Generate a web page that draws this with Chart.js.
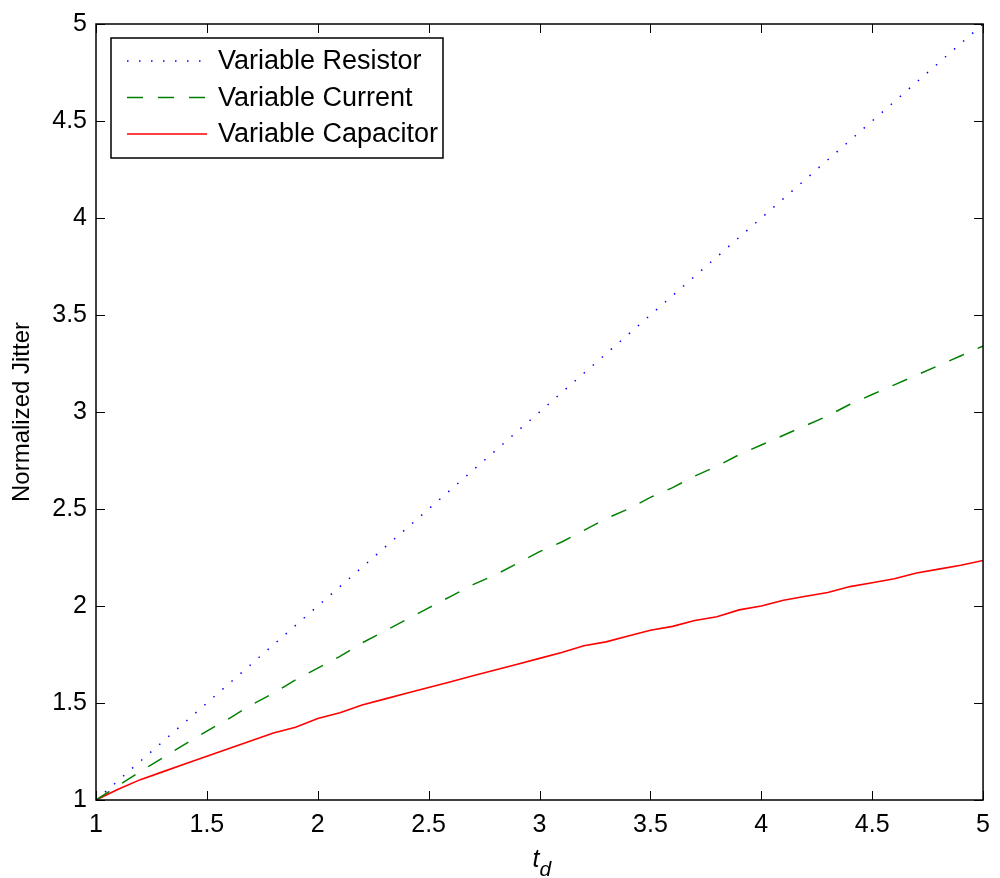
<!DOCTYPE html>
<html>
<head>
<meta charset="utf-8">
<title>Normalized Jitter vs t_d</title>
<script src="https://cdn.jsdelivr.net/npm/chart.js@4.4.0/dist/chart.umd.min.js"></script>
<style>
  html, body { margin: 0; padding: 0; background: #ffffff; }
</style>
</head>
<body>
<canvas id="jitterChart" width="1000" height="878"></canvas>
<script>
// Delay values (x axis) sampled every 0.1
const tdValues = [
  1.0, 1.1, 1.2, 1.3, 1.4, 1.5, 1.6, 1.7, 1.8, 1.9,
  2.0, 2.1, 2.2, 2.3, 2.4, 2.5, 2.6, 2.7, 2.8, 2.9,
  3.0, 3.1, 3.2, 3.3, 3.4, 3.5, 3.6, 3.7, 3.8, 3.9,
  4.0, 4.1, 4.2, 4.3, 4.4, 4.5, 4.6, 4.7, 4.8, 4.9, 5.0
];

// Normalized jitter for each tuning method
const resistorJitter = [
  1.0, 1.1, 1.2, 1.3, 1.4, 1.5, 1.6, 1.7, 1.8, 1.9,
  2.0, 2.1, 2.2, 2.3, 2.4, 2.5, 2.6, 2.7, 2.8, 2.9,
  3.0, 3.1, 3.2, 3.3, 3.4, 3.5, 3.6, 3.7, 3.8, 3.9,
  4.0, 4.1, 4.2, 4.3, 4.4, 4.5, 4.6, 4.7, 4.8, 4.9, 5.0
];
const currentJitter = [
  1.00, 1.074, 1.147, 1.217, 1.287, 1.355, 1.42, 1.49, 1.55, 1.62,
  1.68, 1.74, 1.81, 1.87, 1.93, 1.99, 2.05, 2.11, 2.16, 2.22,
  2.28, 2.33, 2.39, 2.45, 2.50, 2.56, 2.61, 2.67, 2.72, 2.78,
  2.83, 2.88, 2.93, 2.98, 3.04, 3.09, 3.14, 3.19, 3.24, 3.29, 3.34
];
const capacitorJitter = [
  1.000, 1.055, 1.105, 1.145, 1.185, 1.225, 1.265, 1.305, 1.345, 1.375,
  1.420, 1.450, 1.490, 1.520, 1.550, 1.580, 1.610, 1.640, 1.670, 1.700,
  1.730, 1.760, 1.795, 1.815, 1.845, 1.875, 1.895, 1.925, 1.945, 1.980,
  2.000, 2.030, 2.050, 2.070, 2.100, 2.120, 2.140, 2.170, 2.190, 2.210, 2.235
];

const seriesLabels = ["Variable Resistor", "Variable Current", "Variable Capacitor"];
const axisTicks = [1, 1.5, 2, 2.5, 3, 3.5, 4, 4.5, 5];

const FONT = '"Liberation Sans", Arial, Helvetica, sans-serif';
const TICK_LEN = 9;

function toPoints(ys) {
  return tdValues.map((x, i) => ({ x: x, y: ys[i] }));
}

// Box around the plot with inward tick marks on all four sides
const frameTicks = {
  id: "frameTicks",
  afterDatasetsDraw(chart) {
    const { ctx, chartArea: a, scales } = chart;
    ctx.save();
    ctx.strokeStyle = "#000";
    ctx.lineWidth = 1;
    ctx.beginPath();
    scales.x.ticks.forEach(t => {
      const px = Math.round(scales.x.getPixelForValue(t.value)) + 0.5;
      ctx.moveTo(px, a.bottom); ctx.lineTo(px, a.bottom - TICK_LEN);
      ctx.moveTo(px, a.top); ctx.lineTo(px, a.top + TICK_LEN);
    });
    scales.y.ticks.forEach(t => {
      const py = Math.round(scales.y.getPixelForValue(t.value)) + 0.5;
      ctx.moveTo(a.left, py); ctx.lineTo(a.left + TICK_LEN, py);
      ctx.moveTo(a.right, py); ctx.lineTo(a.right - TICK_LEN, py);
    });
    ctx.stroke();
    ctx.lineWidth = 1.5;
    ctx.strokeRect(a.left, a.top, a.right - a.left, a.bottom - a.top);
    ctx.restore();
  }
};

// Legend box in the upper-left corner of the plot
const cornerLegend = {
  id: "cornerLegend",
  afterDraw(chart) {
    const { ctx, chartArea: a } = chart;
    const left = a.left + 15, top = a.top + 14;
    const w = 332, h = 120;
    ctx.save();
    ctx.fillStyle = "#fff";
    ctx.fillRect(left, top, w, h);
    ctx.strokeStyle = "#000";
    ctx.lineWidth = 1.5;
    ctx.strokeRect(left, top, w, h);
    ctx.font = "27px " + FONT;
    ctx.textBaseline = "middle";
    chart.data.datasets.forEach((ds, i) => {
      const yRow = top + 23 + i * 36.5;
      ctx.strokeStyle = ds.borderColor;
      ctx.lineWidth = ds.borderWidth;
      ctx.setLineDash(ds.borderDash || []);
      ctx.beginPath();
      ctx.moveTo(left + 16, yRow);
      ctx.lineTo(left + 96, yRow);
      ctx.stroke();
      ctx.setLineDash([]);
      ctx.fillStyle = "#000";
      ctx.fillText(ds.label, left + 107, yRow + 1);
    });
    ctx.restore();
  }
};

// x-axis title "t" with subscript "d"
const subscriptTitle = {
  id: "subscriptTitle",
  afterDraw(chart) {
    const { ctx, scales } = chart;
    const cx = scales.x.getPixelForValue(3);
    ctx.save();
    ctx.fillStyle = "#000";
    ctx.textBaseline = "alphabetic";
    ctx.font = "italic 25px " + FONT;
    ctx.fillText("t", cx - 7, 867);
    ctx.font = "italic 21px " + FONT;
    ctx.fillText("d", cx, 876);
    ctx.restore();
  }
};

const ctx = document.getElementById("jitterChart");
new Chart(ctx, {
  type: "line",
  data: {
    datasets: [
      {
        label: seriesLabels[0],
        data: toPoints(resistorJitter),
        borderColor: "#0000ff",
        borderWidth: 1.5,
        borderDash: [1.5, 10.5],
        pointRadius: 0,
        tension: 0
      },
      {
        label: seriesLabels[1],
        data: toPoints(currentJitter),
        borderColor: "#008000",
        borderWidth: 1.5,
        borderDash: [16, 15],
        pointRadius: 0,
        tension: 0
      },
      {
        label: seriesLabels[2],
        data: toPoints(capacitorJitter),
        borderColor: "#ff0000",
        borderWidth: 1.6,
        pointRadius: 0,
        tension: 0
      }
    ]
  },
  options: {
    responsive: false,
    animation: false,
    layout: { autoPadding: false, padding: { left: 0, right: 13, top: 19, bottom: 0 } },
    plugins: {
      legend: { display: false },
      tooltip: { enabled: false }
    },
    scales: {
      x: {
        type: "linear",
        min: 1,
        max: 5,
        afterBuildTicks: scale => { scale.ticks = axisTicks.map(v => ({ value: v })); },
        afterFit: scale => { scale.height = 78; },
        grid: { display: false, drawTicks: false },
        border: { display: false },
        ticks: {
          padding: 10,
          maxRotation: 0,
          autoSkip: false,
          color: "#000",
          font: { family: FONT, size: 25 },
          callback: v => String(v)
        }
      },
      y: {
        type: "linear",
        min: 1,
        max: 5,
        afterBuildTicks: scale => { scale.ticks = axisTicks.map(v => ({ value: v })); },
        afterFit: scale => { scale.width = 96; },
        grid: { display: false, drawTicks: false },
        border: { display: false },
        title: {
          display: true,
          text: "Normalized Jitter",
          color: "#000",
          font: { family: FONT, size: 24 },
          padding: { top: 8, bottom: 0 }
        },
        ticks: {
          padding: 9,
          autoSkip: false,
          color: "#000",
          font: { family: FONT, size: 25 },
          callback: v => String(v)
        }
      }
    }
  },
  plugins: [frameTicks, cornerLegend, subscriptTitle]
});
</script>
</body>
</html>
